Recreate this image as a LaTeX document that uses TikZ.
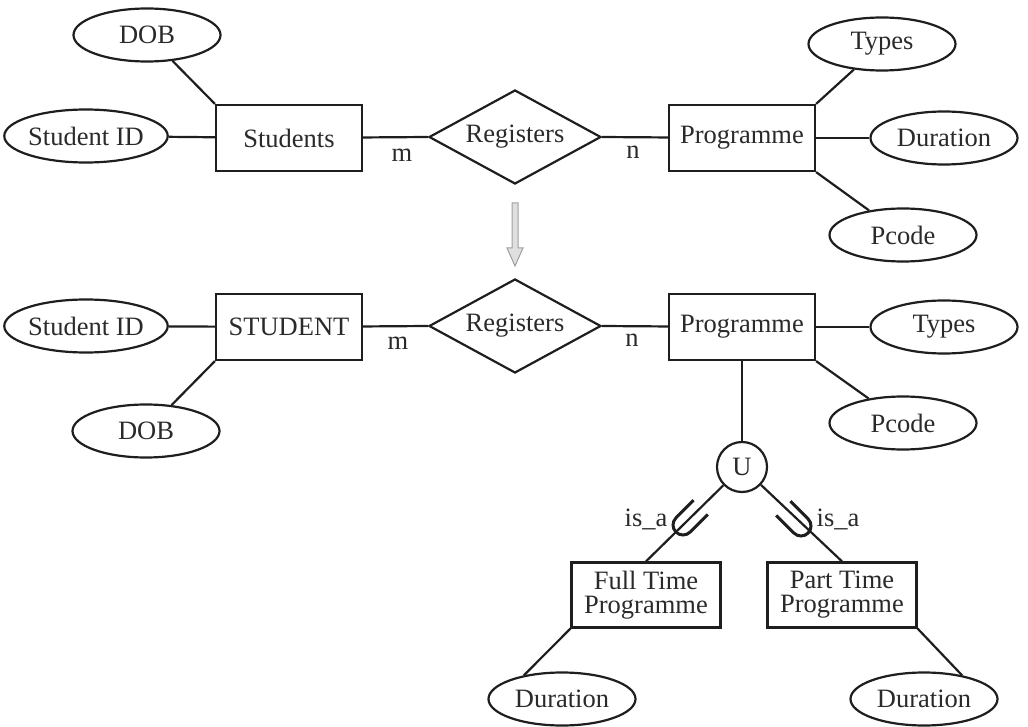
\documentclass[tikz,border=0pt]{standalone}
\usepackage{fontspec}
\setmainfont{Liberation Serif}
\usetikzlibrary{shapes.geometric}
\definecolor{ink}{HTML}{1E1E1E}
\definecolor{txt}{HTML}{2A2A2A}
\begin{document}
\begin{tikzpicture}[x=1pt,y=1pt,
  every node/.style={font=\fontsize{26.5}{24}\selectfont, text=txt},
  ent/.style={draw=ink, line width=2.2pt, minimum width=146pt, minimum height=66pt, inner sep=0pt, align=center},
  attr/.style={draw=ink, ellipse, line width=2.2pt, minimum width=147pt, minimum height=53pt, inner sep=0pt},
  rel/.style={draw=ink, diamond, aspect=1.8, line width=2.2pt, minimum width=172pt, minimum height=94pt, inner sep=0pt},
  conn/.style={draw=ink, line width=2.2pt},
  cup/.style={draw=ink, line width=3pt},
  card/.style={inner sep=0pt},
]
\useasboundingbox (0,0) rectangle (1028,-727);

% ---------- top diagram ----------
\node[ent] (stu1) at (289,-138) {Students};
\node[attr] (dob1) at (147,-35) {DOB};
\node[attr] (sid1) at (86,-136) {Student ID};
\node[rel] (reg1) at (515,-137) {Registers};
\node[ent] (prg1) at (742,-138) {Programme};
\node[attr] (typ1) at (882,-44) {Types};
\node[attr] (dur1) at (944,-138) {Duration};
\node[attr] (pco1) at (903,-235) {Pcode};
\node[card] (m1) at (402,-155) {m};
\node[card] (n1) at (633,-152) {n};

\draw[conn] (dob1) -- (stu1.north west);
\draw[conn] (sid1) -- (stu1);
\draw[conn] (stu1) -- (reg1.west);
\draw[conn] (reg1.east) -- (prg1);
\draw[conn] (typ1) -- (prg1.north east);
\draw[conn] (prg1) -- (dur1);
\draw[conn] (prg1.south east) -- (pco1);

% ---------- transformation arrow ----------
\draw[draw=gray!75, fill=gray!25, line width=1pt]
  (512,-203) -- (518,-203) -- (518,-248) -- (523,-248) -- (515,-266) -- (507,-248) -- (512,-248) -- cycle;

% ---------- bottom diagram ----------
\node[ent] (stu2) at (289,-327) {STUDENT};
\node[attr] (sid2) at (86,-326) {Student ID};
\node[attr] (dob2) at (146,-431) {DOB};
\node[rel] (reg2) at (515,-326) {Registers};
\node[ent] (prg2) at (742,-327) {Programme};
\node[attr] (typ2) at (944,-327) {Types};
\node[attr] (pco2) at (903,-423) {Pcode};
\node[card] (m2) at (398,-343) {m};
\node[card] (n2) at (632,-340) {n};
\node[draw=ink, circle, line width=2.2pt, minimum size=50pt, inner sep=0pt] (u) at (742,-467) {U};
\node[ent, minimum width=149pt, minimum height=65pt] (ft) at (646,-595) {Full Time\\Programme};
\node[ent, minimum width=149pt, minimum height=65pt] (pt) at (842,-595) {Part Time\\Programme};
\node[attr] (dur3) at (562,-699) {Duration};
\node[attr] (dur4) at (924,-699) {Duration};
\node[card] (isa1) at (646,-519) {is\_a};
\node[card] (isa2) at (838,-519) {is\_a};

\draw[conn] (sid2) -- (stu2);
\draw[conn] (stu2.south west) -- (dob2);
\draw[conn] (stu2) -- (reg2.west);
\draw[conn] (reg2.east) -- (prg2);
\draw[conn] (prg2) -- (typ2);
\draw[conn] (prg2.south east) -- (pco2);
\draw[conn] (prg2.south) -- (u.north);
\draw[conn] (u) -- (ft.north);
\draw[conn] (u) -- (pt.north);
\draw[conn] (ft.south west) -- (dur3.148);
\draw[conn] (pt.south east) -- (dur4.32);

% subset symbols
\draw[cup, shift={(683,-525)}, rotate=45] (25,10) -- (0,10) arc[start angle=90, end angle=270, radius=10] -- (25,-10);
\draw[cup, shift={(801,-526)}, rotate=135] (25,10) -- (0,10) arc[start angle=90, end angle=270, radius=10] -- (25,-10);
\end{tikzpicture}
\end{document}
